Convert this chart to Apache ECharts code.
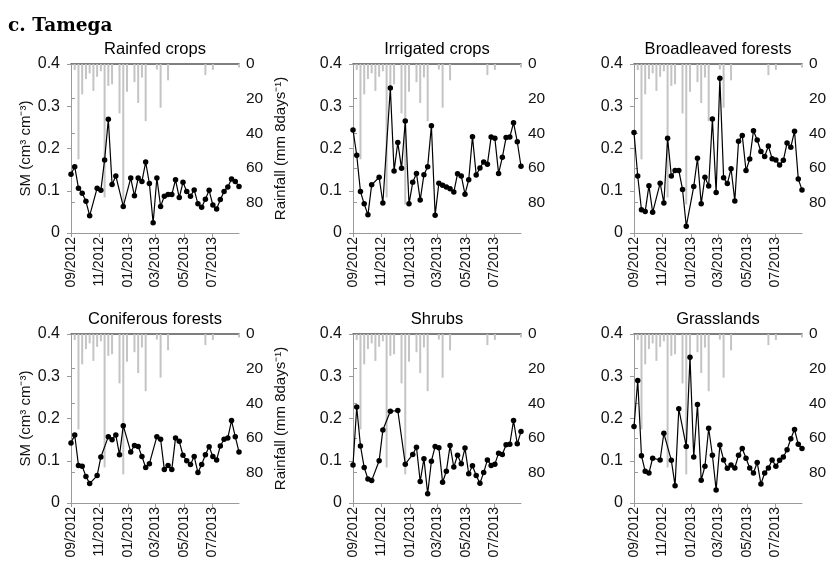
<!DOCTYPE html>
<html>
<head>
<meta charset="utf-8">
<script src="https://cdn.jsdelivr.net/npm/echarts@6/dist/echarts.min.js"></script>
<style>
html,body{margin:0;padding:0;background:#fff;}
#chart{width:834px;height:565px;}
</style>
</head>
<body>
<div id="chart"></div>
<script>
// 8-day composite dates
const dates = [
 '2012-09-01','2012-09-09','2012-09-17','2012-09-25','2012-10-03','2012-10-11','2012-10-19','2012-10-27',
 '2012-11-04','2012-11-12','2012-11-20','2012-11-28','2012-12-06','2012-12-14','2012-12-22','2012-12-30',
 '2013-01-07','2013-01-15','2013-01-23','2013-01-31','2013-02-08','2013-02-16','2013-02-24','2013-03-04',
 '2013-03-12','2013-03-20','2013-03-28','2013-04-05','2013-04-13','2013-04-21','2013-04-29','2013-05-07',
 '2013-05-15','2013-05-23','2013-05-31','2013-06-08','2013-06-16','2013-06-24','2013-07-02','2013-07-10',
 '2013-07-18','2013-07-26','2013-08-03','2013-08-11','2013-08-19','2013-08-27'
];
const labelDates = ['2012-09-01','2012-11-01','2013-01-01','2013-03-01','2013-05-01','2013-07-01'];
const tickLabels = ['09/2012','11/2012','01/2013','03/2013','05/2013','07/2013'];
const panelTitles = ['Rainfed crops','Irrigated crops','Broadleaved forests','Coniferous forests','Shrubs','Grasslands'];
const smTicks = [0, 0.1, 0.2, 0.3, 0.4];
const rainTicks = [0, 20, 40, 60, 80];

// Rainfall (mm 8days-1), same basin for all panels
const rainfall = [null,3.5,55,17.5,8.7,5.4,15.5,7.4,4.2,77,12.6,11.7,null,28.5,81,16,null,10.5,22.5,7.8,33,null,null,3.2,25.2,null,9.4,null,null,null,null,null,null,null,null,null,6.4,null,3.4,null,null,null,null,null,null,2];

// Soil moisture (cm3 cm-3)
const smRainfed = [0.139,0.157,0.106,0.094,0.075,0.041,null,0.106,0.101,0.173,
 0.269,0.115,0.135,null,0.063,null,0.130,0.088,0.130,0.122,
 0.168,0.117,0.024,0.130,0.063,0.087,0.091,0.091,0.126,0.084,
 0.120,0.098,0.087,0.102,0.069,0.061,0.080,0.101,0.066,0.057,
 0.079,0.098,0.109,0.128,0.122,0.110];
const smIrrigated = [0.244,0.184,0.098,0.069,0.043,0.114,null,0.132,0.071,null,
 0.343,0.147,0.214,0.153,0.265,0.069,0.120,0.141,0.078,0.138,
 0.157,0.254,0.042,0.118,0.113,0.109,0.105,0.097,0.140,0.135,
 0.092,0.126,0.228,0.137,0.154,0.168,0.163,0.227,0.224,0.141,
 0.179,0.226,0.227,0.261,0.216,0.158];
const smBroadleaved = [0.238,0.135,0.055,0.051,0.112,0.049,null,0.118,0.071,0.224,
 0.135,0.148,0.148,0.103,0.016,null,0.110,0.177,0.069,0.132,
 0.111,0.270,0.096,0.366,0.131,0.117,0.152,0.076,0.217,0.231,
 0.148,0.175,0.242,0.220,0.193,0.181,0.206,0.176,0.173,0.161,
 0.172,0.213,0.203,0.241,0.128,0.102];
const smConiferous = [0.142,0.161,0.089,0.087,0.063,0.046,null,0.065,0.109,null,
 0.157,0.150,0.161,0.114,0.183,null,0.121,0.136,0.134,0.110,
 0.084,0.093,null,0.157,0.151,0.079,0.089,0.079,0.154,0.146,
 0.113,0.100,0.091,0.110,0.072,0.091,0.114,0.133,0.110,0.102,
 0.135,0.151,0.154,0.195,0.157,0.121];
const smShrubs = [0.090,0.227,0.135,0.084,0.057,0.053,null,0.100,0.173,null,
 0.217,null,0.219,null,0.092,null,0.115,0.132,0.051,0.105,
 0.022,0.099,0.134,0.131,0.049,0.075,0.136,0.085,0.113,0.093,
 0.130,0.069,0.088,0.065,0.047,0.072,0.102,0.089,0.092,0.118,
 0.115,0.138,0.139,0.195,0.140,0.169];
const smGrasslands = [0.181,0.290,0.112,0.075,0.071,0.106,null,0.102,0.165,null,
 0.101,0.041,0.223,null,0.134,0.345,0.109,0.233,0.054,0.087,
 0.177,0.113,0.031,0.137,0.102,0.082,0.090,0.083,0.113,0.129,
 0.106,0.083,0.071,0.096,0.045,0.071,0.083,0.102,0.087,0.101,
 0.109,0.126,0.152,0.174,0.139,0.129];

const smSeries = [smRainfed, smIrrigated, smBroadleaved, smConiferous, smShrubs, smGrasslands];

// ---- build ----
const DAY = 86400000;
const t0 = Date.parse(dates[0]);
const dayOf = d => Math.round((Date.parse(d) - t0) / DAY);
const xs = dates.map(dayOf);
const labelX = labelDates.map(dayOf);
const xMax = xs[xs.length - 1];

const FONT = "'Liberation Sans', Arial, sans-serif";
const axisGrey = '#9a9a9a';

const gridPos = [
  {left: 71, top: 64}, {left: 353, top: 64}, {left: 634, top: 64},
  {left: 71, top: 334}, {left: 353, top: 334}, {left: 634, top: 334}
];
const W = 168, H = 169;

const grid = [], xAxis = [], yAxis = [], series = [], graphic = [];

graphic.push({type: 'text', x: 8, y: 26, style: {text: 'c. Tamega', font: "bold 18.5px 'DejaVu Serif', serif", fill: '#000', align: 'left', textAlign: 'left', verticalAlign: 'middle', textVerticalAlign: 'middle'}});

gridPos.forEach((g, p) => {
  grid.push({left: g.left, top: g.top, width: W, height: H, containLabel: false});
  const leftCol = (p % 3 === 0);
  graphic.push({type: 'text', x: g.left + W / 2, y: g.top - 15, style: {text: panelTitles[p], font: '16.5px ' + FONT, fill: '#000', align: 'center', textAlign: 'center', verticalAlign: 'middle', textVerticalAlign: 'middle'}});

  xAxis.push({
    gridIndex: p, type: 'value', min: 0, max: xMax, position: 'bottom',
    axisLine: {lineStyle: {color: axisGrey, width: 1}},
    axisTick: {show: true, customValues: labelX, length: 4, inside: false, lineStyle: {color: axisGrey}},
    axisLabel: {customValues: labelX, rotate: 90, margin: 4, fontSize: 14, fontFamily: FONT, color: '#111',
      formatter: v => tickLabels[labelX.indexOf(Math.round(v))] || ''},
    splitLine: {show: false}
  });
  xAxis.push({
    gridIndex: p, type: 'value', min: 0, max: xMax, position: 'top',
    axisLine: {lineStyle: {color: '#555', width: 1.6}},
    axisTick: {show: false}, axisLabel: {show: false}, splitLine: {show: false}
  });
  yAxis.push({
    gridIndex: p, type: 'value', min: smTicks[0], max: smTicks[smTicks.length - 1], interval: 0.1, position: 'left',
    name: leftCol ? 'SM (cm³ cm⁻³)' : '', nameLocation: 'middle', nameGap: 31, nameRotate: 90,
    nameTextStyle: {fontSize: 15, fontFamily: FONT, color: '#111'},
    axisLine: {show: true, lineStyle: {color: axisGrey}},
    axisTick: {show: true, length: 4, lineStyle: {color: axisGrey}},
    axisLabel: {fontSize: 16, fontFamily: FONT, color: '#111', margin: 11,
      formatter: v => (Math.abs(v) < 1e-9 ? '0' : (+v).toFixed(1))},
    splitLine: {show: false}
  });
  yAxis.push({
    gridIndex: p, type: 'value', min: rainTicks[0], max: 97.5, interval: 20, position: 'right', inverse: true,
    name: leftCol ? 'Rainfall (mm 8days⁻¹)' : '', nameLocation: 'middle', nameGap: 34, nameRotate: 90,
    nameTextStyle: {fontSize: 15, fontFamily: FONT, color: '#111'},
    axisLine: {show: true, lineStyle: {color: axisGrey}},
    axisTick: {show: true, length: 4, lineStyle: {color: axisGrey}},
    axisLabel: {fontSize: 15.5, fontFamily: FONT, color: '#111', margin: 7, showMaxLabel: false,
      formatter: v => (rainTicks.indexOf(Math.round(v)) >= 0 ? String(Math.round(v)) : '')},
    splitLine: {show: false}
  });

  const rainData = rainfall.map((v, i) => [xs[i], v]).filter(d => d[1] != null);
  series.push({
    type: 'bar', xAxisIndex: 2 * p, yAxisIndex: 2 * p + 1, data: rainData,
    barWidth: 2, itemStyle: {color: '#c4c4c4'}, silent: true, animation: false, z: 1
  });
  const smData = smSeries[p].map((v, i) => [xs[i], v]).filter(d => d[1] != null);
  series.push({
    type: 'line', xAxisIndex: 2 * p, yAxisIndex: 2 * p, data: smData,
    symbol: 'circle', symbolSize: 5.5, showSymbol: true, connectNulls: true, clip: false,
    itemStyle: {color: '#000'}, lineStyle: {color: '#000', width: 1.2},
    animation: false, z: 3
  });
});

const chart = echarts.init(document.getElementById('chart'), null, {renderer: 'canvas'});
chart.setOption({
  backgroundColor: '#fff',
  animation: false,
  grid, xAxis, yAxis, series, graphic
});
</script>
</body>
</html>
